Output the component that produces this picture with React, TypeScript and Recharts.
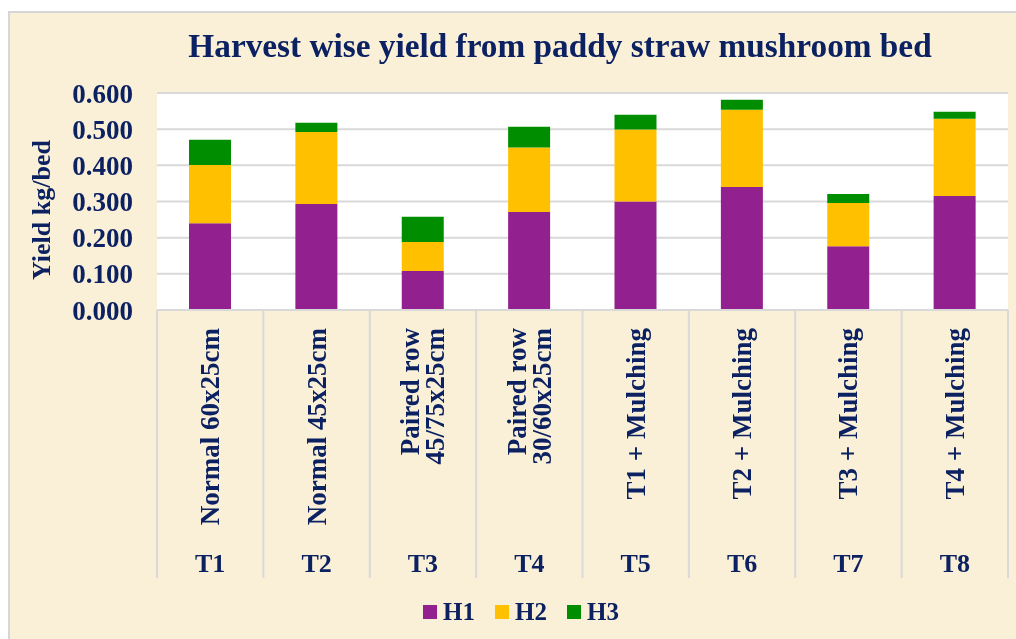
import { BarChart, Bar, XAxis, YAxis, CartesianGrid, Legend, Label } from "recharts";

const codes = ["T1", "T2", "T3", "T4", "T5", "T6", "T7", "T8"];
const treatments = [
  "Normal 60x25cm",
  "Normal 45x25cm",
  "Paired row\n45/75x25cm",
  "Paired row\n30/60x25cm",
  "T1 + Mulching",
  "T2 + Mulching",
  "T3 + Mulching",
  "T4 + Mulching",
];
const h1 = [0.24, 0.293, 0.108, 0.271, 0.3, 0.34, 0.176, 0.315];
const h2 = [0.161, 0.199, 0.08, 0.178, 0.199, 0.214, 0.12, 0.214];
const h3 = [0.07, 0.026, 0.07, 0.058, 0.041, 0.027, 0.025, 0.019];
const yTicks = [0, 0.1, 0.2, 0.3, 0.4, 0.5, 0.6];

const data = codes.map((code, i) => ({
  code,
  name: treatments[i],
  H1: h1[i],
  H2: h2[i],
  H3: h3[i],
}));

const NAVY = "#0B2161";
const FONT = "'Liberation Serif', 'Times New Roman', serif";
const GRID = "#D9D9D9";

const W = 1012;
const H = 632;
const BAND = (998 - 147) / codes.length;

const CategoryTick = (props: any) => {
  const { x, y, payload, index } = props;
  const lines: string[] = treatments[index].split("\n");
  return (
    <g>
      <line x1={x - BAND / 2} x2={x - BAND / 2} y1={y} y2={y + 268} stroke={GRID} strokeWidth={2} />
      {index === codes.length - 1 && (
        <line x1={x + BAND / 2} x2={x + BAND / 2} y1={y} y2={y + 268} stroke={GRID} strokeWidth={2} />
      )}
      {lines.map((ln, i) => {
        const bx = x + (i - (lines.length - 1) / 2) * 25 + 9;
        const by = y + 18;
        return (
          <text
            key={i}
            x={bx}
            y={by}
            transform={`rotate(-90, ${bx}, ${by})`}
            textAnchor="end"
            fill={NAVY}
            fontFamily={FONT}
            fontWeight="bold"
            fontSize={27}
          >
            {ln}
          </text>
        );
      })}
      <text x={x} y={y + 262} textAnchor="middle" fill={NAVY} fontFamily={FONT} fontWeight="bold" fontSize={26}>
        {payload.value}
      </text>
    </g>
  );
};

const LegendContent = (props: any) => {
  const { payload } = props;
  return (
    <div style={{ display: "flex", justifyContent: "center", alignItems: "center", paddingLeft: 30 }}>
      {(payload || []).map((p: any) => (
        <div key={p.value} style={{ display: "flex", alignItems: "center", marginRight: 20 }}>
          <span style={{ width: 14, height: 14, background: p.color, display: "inline-block", marginRight: 6 }} />
          <span style={{ fontFamily: FONT, fontWeight: "bold", fontSize: 25, color: NAVY, lineHeight: "26px" }}>
            {p.value}
          </span>
        </div>
      ))}
    </div>
  );
};

export default function App() {
  return (
    <div
      style={{
        position: "fixed",
        left: 8,
        top: 11,
        width: W,
        height: H,
        border: "2px solid #D6D6D6",
        background: "#FAF0D8",
      }}
    >
      <div
        style={{
          position: "absolute",
          left: 0,
          top: 16,
          width: 1100,
          textAlign: "center",
          fontFamily: FONT,
          fontWeight: "bold",
          fontSize: 33.3,
          lineHeight: "33px",
          color: NAVY,
        }}
      >
        Harvest wise yield from paddy straw mushroom bed
      </div>
      <BarChart width={W} height={H} data={data} margin={{ top: 80, right: 14, left: 0, bottom: 67 }} barSize={42}>
        <CartesianGrid vertical={false} stroke={GRID} strokeWidth={2} fill="#FFFFFF" fillOpacity={1} />
        <XAxis
          dataKey="code"
          height={268}
          interval={0}
          tickLine={false}
          tickSize={0}
          tickMargin={0}
          axisLine={{ stroke: GRID, strokeWidth: 2 }}
          tick={<CategoryTick />}
        />
        <YAxis
          width={147}
          domain={[0, 0.6]}
          ticks={yTicks}
          interval={0}
          tickLine={false}
          axisLine={false}
          tickMargin={18}
          tickFormatter={(v: number) => v.toFixed(3)}
          tick={{ fill: NAVY, fontFamily: FONT, fontWeight: "bold", fontSize: 27 }}
        >
          <Label
            content={() => (
              <text
                x={40}
                y={197}
                transform="rotate(-90, 40, 197)"
                textAnchor="middle"
                fill={NAVY}
                fontFamily={FONT}
                fontWeight="bold"
                fontSize={26}
              >
                Yield kg/bed
              </text>
            )}
          />
        </YAxis>
        <Legend
          layout="horizontal"
          verticalAlign="middle"
          align="center"
          wrapperStyle={{ top: 586, left: 0, width: W }}
          content={<LegendContent />}
        />
        <Bar dataKey="H1" stackId="a" fill="#92208F" isAnimationActive={false} />
        <Bar dataKey="H2" stackId="a" fill="#FFC000" isAnimationActive={false} />
        <Bar dataKey="H3" stackId="a" fill="#008E00" isAnimationActive={false} />
      </BarChart>
    </div>
  );
}
